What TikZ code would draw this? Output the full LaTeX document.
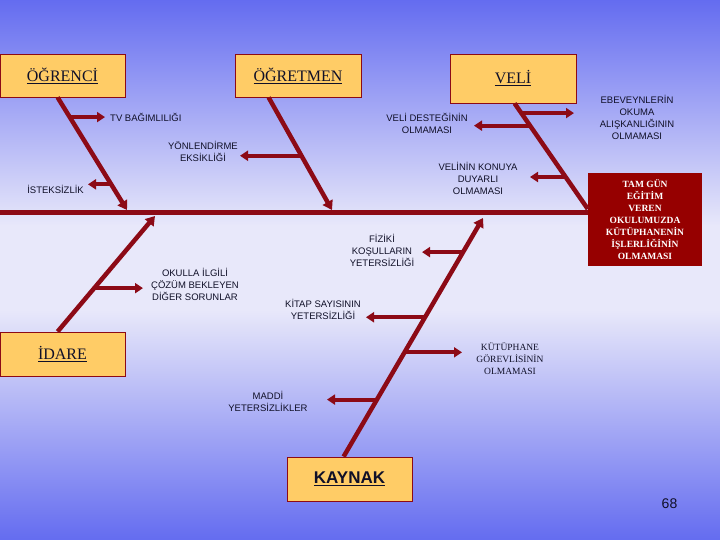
\documentclass[tikz,border=0pt]{standalone}
\usepackage{fontspec}
\setmainfont{Liberation Serif}
\newfontfamily\lsans{Liberation Sans}
\usetikzlibrary{arrows.meta,calc}
\definecolor{bgblue}{RGB}{100,108,240}
\definecolor{bglight}{RGB}{232,232,250}
\definecolor{spinered}{RGB}{140,10,22}
\definecolor{boxfill}{RGB}{255,204,102}
\definecolor{darkbox}{RGB}{150,0,0}
\definecolor{ink}{RGB}{16,16,40}
\begin{document}
\begin{tikzpicture}[x=1pt,y=-1pt,
 catbox/.style={draw=spinered, line width=0.8pt, fill=boxfill, minimum width=125pt, minimum height=43pt, inner sep=0pt, font=\fontsize{16}{18}\selectfont, text=ink},
 lab/.style={font=\lsans\fontsize{9.5}{12}\selectfont, align=center, text=ink, inner sep=0pt},
 slab/.style={font=\fontsize{9.5}{12}\selectfont, align=center, text=ink, inner sep=0pt},
 spine/.style={draw=spinered, line width=4.5pt},
 sarrow/.style={spine, -{Triangle[length=9pt,width=11pt]}},
 branch/.style={draw=spinered, line width=4pt, -{Triangle[length=8pt,width=10pt]}}
]
\useasboundingbox (0,0) rectangle (720,540);
\fill[top color=bgblue, bottom color=bglight] (0,0) rectangle (720,226);
\fill[bglight] (0,225) rectangle (720,311);
\fill[top color=bglight, bottom color=bgblue] (0,310) rectangle (720,540);

% category boxes
\node[catbox] (ogr) at (62.5,75.5) {\underline{ÖĞRENCİ}};
\node[catbox, minimum width=126pt] (ogt) at (298,75.5) {\underline{ÖĞRETMEN}};
\node[catbox, minimum width=126pt, minimum height=49pt] (veli) at (513,78.5) {\underline{VELİ}};
\node[catbox, minimum height=44pt] (idare) at (62.5,354) {\underline{İDARE}};
\node[catbox, minimum height=44pt, font=\lsans\bfseries\fontsize{17}{18}\selectfont] (kaynak) at (349.5,479) {\underline{KAYNAK}};
\node[fill=darkbox, minimum width=114pt, minimum height=93pt, inner sep=0pt, text=white,
      font=\bfseries\fontsize{9.5}{12}\selectfont, align=center] (prob) at (645,219.5)
  {TAM GÜN\\EĞİTİM\\VEREN\\OKULUMUZDA\\KÜTÜPHANENİN\\İŞLERLİĞİNİN\\OLMAMASI};

% main spine
\coordinate (tail) at (0,213);
\draw[spine, line width=5pt] (tail) -- (tail -| prob.west);

% ÖĞRENCİ spine
\coordinate (a1) at ($(ogr.south west)+(58,0)$);
\coordinate (t1) at (127,210);
\draw[sarrow] (a1) -- (t1);
\coordinate (p11) at ($(a1)!0.175!(t1)$);
\coordinate (p12) at ($(a1)!0.772!(t1)$);
\coordinate (e11) at (105,117);
\coordinate (e12) at (88,185);
\draw[branch] (p11) -- (p11 -| e11);
\draw[branch] (p12) -- (p12 -| e12);
\node[lab, anchor=west] (tv) at (110,117) {TV BAĞIMLILIĞI};
\node[lab, anchor=east] (ist) at (84,189) {İSTEKSİZLİK};

% ÖĞRETMEN spine
\coordinate (a2) at ($(ogt.south west)+(34,0)$);
\coordinate (t2) at (332,210);
\draw[sarrow] (a2) -- (t2);
\coordinate (p21) at ($(a2)!0.518!(t2)$);
\coordinate (e21) at (240,156);
\draw[branch] (p21) -- (p21 -| e21);
\node[lab] (yon) at (203,151) {YÖNLENDİRME\\EKSİKLİĞİ};

% VELİ spine
\coordinate (a3) at ($(veli.south west)+(65,0)$);
\coordinate (y3) at (0,209);
\coordinate (t3) at (prob.west |- y3);
\draw[spine] (a3) -- (t3);
\coordinate (p31) at ($(a3)!0.092!(t3)$);
\coordinate (p32) at ($(a3)!0.211!(t3)$);
\coordinate (p33) at ($(a3)!0.697!(t3)$);
\coordinate (e31) at (574,113);
\coordinate (e32) at (474,126);
\coordinate (e33) at (530,179);
\draw[branch] (p31) -- (p31 -| e31);
\draw[branch] (p32) -- (p32 -| e32);
\draw[branch] (p33) -- (p33 -| e33);
\node[lab] (ebe) at (637,117) {EBEVEYNLERİN\\OKUMA\\ALIŞKANLIĞININ\\OLMAMASI};
\node[lab] (ved) at (427,123) {VELİ DESTEĞİNİN\\OLMAMASI};
\node[lab] (vek) at (478,178) {VELİNİN KONUYA\\DUYARLI\\OLMAMASI};

% İDARE spine
\coordinate (a4) at ($(idare.north west)+(58,0)$);
\coordinate (t4) at (155,216);
\draw[sarrow] (a4) -- (t4);
\coordinate (p41) at ($(a4)!0.376!(t4)$);
\coordinate (e41) at (143,288);
\draw[branch] (p41) -- (p41 -| e41);
\node[lab] (oku) at (195,284) {OKULLA İLGİLİ\\ÇÖZÜM BEKLEYEN\\DİĞER SORUNLAR};

% KAYNAK spine
\coordinate (a5) at ($(kaynak.north west)+(57,0)$);
\coordinate (t5) at (483,218);
\draw[sarrow] (a5) -- (t5);
\coordinate (p51) at ($(a5)!0.857!(t5)$);
\coordinate (p52) at ($(a5)!0.584!(t5)$);
\coordinate (p53) at ($(a5)!0.437!(t5)$);
\coordinate (p54) at ($(a5)!0.239!(t5)$);
\coordinate (e51) at (422,253);
\coordinate (e52) at (366,318);
\coordinate (e53) at (462,353);
\coordinate (e54) at (327,400);
\draw[branch] (p51) -- (p51 -| e51);
\draw[branch] (p52) -- (p52 -| e52);
\draw[branch] (p53) -- (p53 -| e53);
\draw[branch] (p54) -- (p54 -| e54);
\node[lab] (fiz) at (382,250) {FİZİKİ\\KOŞULLARIN\\YETERSİZLİĞİ};
\node[lab] (kit) at (323,309) {KİTAP SAYISININ\\YETERSİZLİĞİ};
\node[slab] (kut) at (510,359) {KÜTÜPHANE\\GÖREVLİSİNİN\\OLMAMASI};
\node[lab] (mad) at (268,401) {MADDİ\\YETERSİZLİKLER};

\node[font=\lsans\fontsize{14}{16}\selectfont, text=ink] (pg) at (669.5,504) {68};
\end{tikzpicture}
\end{document}
